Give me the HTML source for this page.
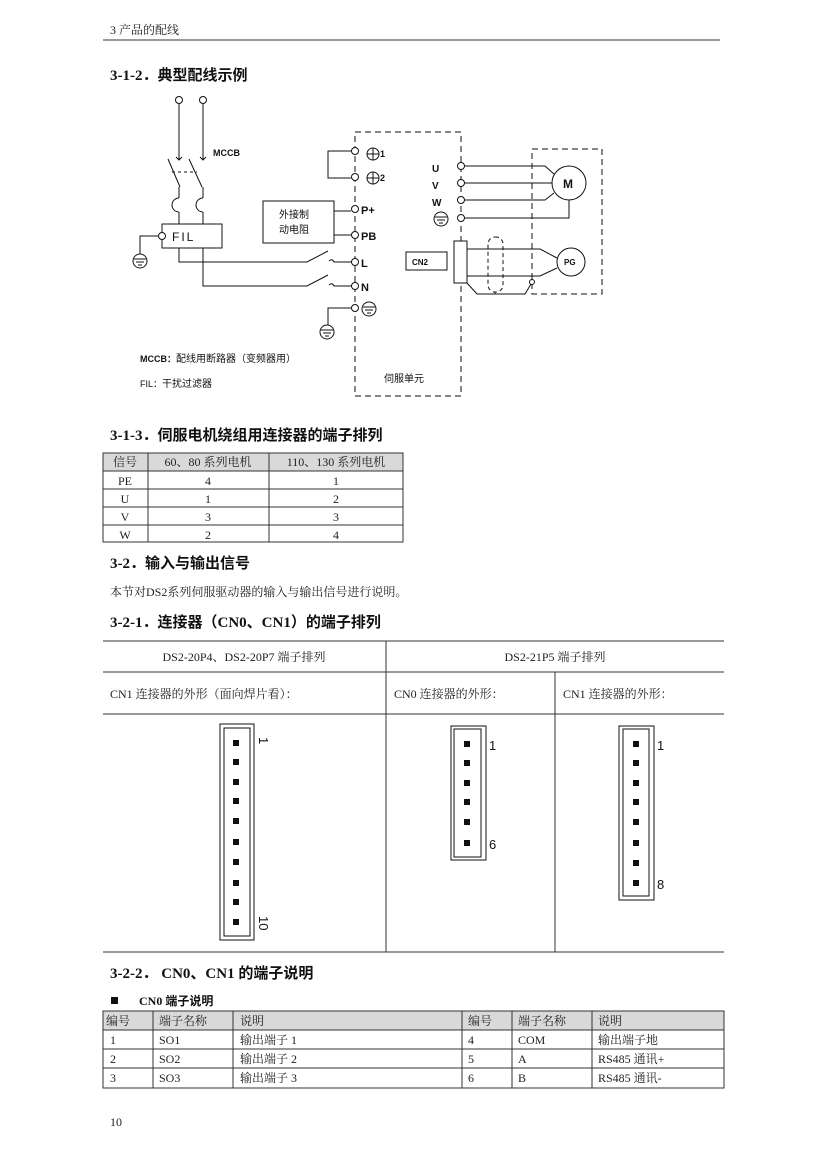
<!DOCTYPE html>
<html><head><meta charset="utf-8"><style>
html,body{margin:0;padding:0;background:#fff;}
svg{display:block;}
.s{font-family:"Liberation Serif","Noto Serif CJK SC",serif;fill:#222;}
.h{font-family:"Liberation Serif","Noto Sans CJK SC",serif;font-weight:bold;fill:#111;}
.a{font-family:"Liberation Sans","Noto Sans CJK SC",sans-serif;fill:#111;}
</style></head><body>
<svg width="827" height="1169" viewBox="0 0 827 1169" xmlns="http://www.w3.org/2000/svg">
<rect width="827" height="1169" fill="#fff"/>
<text x="110" y="34" class="s" font-size="12">3  产品的配线</text>
<line x1="103" y1="40" x2="720" y2="40" stroke="#333" stroke-width="1"/>
<text x="110" y="80" class="h" font-size="15">3-1-2．典型配线示例</text>

<g stroke="#111" stroke-width="1" fill="none">
<circle cx="179" cy="100" r="3.5" fill="#fff"/><circle cx="203" cy="100" r="3.5" fill="#fff"/>
<line x1="179" y1="104" x2="179" y2="160"/><line x1="203" y1="104" x2="203" y2="160"/>
<path d="M176 157 L179 160 L182 157 M200 157 L203 160 L206 157"/>
<line x1="168" y1="159" x2="180" y2="187"/><line x1="189" y1="159" x2="202" y2="187"/>
<line x1="172" y1="172" x2="197" y2="172" stroke-dasharray="3,3"/>
<line x1="179" y1="187" x2="179" y2="198"/><line x1="203" y1="187" x2="203" y2="198"/>
<path d="M179 198 A7 7 0 0 0 179 212 M203 198 A7 7 0 0 0 203 212"/>
<line x1="179" y1="212" x2="179" y2="224"/><line x1="203" y1="212" x2="203" y2="224"/>
<rect x="162" y="224" width="60" height="24"/>
<circle cx="162" cy="236" r="3.5" fill="#fff"/>
<path d="M158 236 H140 V254"/>
<circle cx="140" cy="261" r="7"/><path d="M134 259 H146 M136 262 H144 M138 265 H142"/>
<path d="M179 248 V262 H307 L328 251"/><path d="M203 248 V286 H307 L328 275"/>
<path d="M329 261 Q332 258 334 262 H352"/><path d="M329 285 Q332 282 334 286 H352"/>
<path d="M355 132 H461 V396 H355 Z" stroke-dasharray="6,4"/>
<g fill="#fff">
<circle cx="355" cy="151" r="3.5"/><circle cx="355" cy="177" r="3.5"/><circle cx="355" cy="209" r="3.5"/>
<circle cx="355" cy="235" r="3.5"/><circle cx="355" cy="262" r="3.5"/><circle cx="355" cy="286" r="3.5"/><circle cx="355" cy="308" r="3.5"/>
</g>
<path d="M351 151 H328 V178 H351"/>
<circle cx="373" cy="154" r="6"/><path d="M367 154 H379 M373 148 V160"/>
<circle cx="373" cy="178" r="6"/><path d="M367 178 H379 M373 172 V184"/>
<rect x="263" y="201" width="71" height="42"/>
<path d="M334 211 H351 M334 235 H351"/>
<path d="M351 308 H328 V325"/>
<circle cx="327" cy="332" r="7"/><path d="M321 330 H333 M323 333 H331 M325 336 H329"/>
<circle cx="369" cy="309" r="7"/><path d="M363 307 H375 M365 310 H373 M367 313 H371"/>
<circle cx="441" cy="219" r="7"/><path d="M435 217 H447 M437 220 H445 M439 223 H443"/>
<g fill="#fff"><circle cx="461" cy="166" r="3.5"/><circle cx="461" cy="183" r="3.5"/><circle cx="461" cy="200" r="3.5"/><circle cx="461" cy="218" r="3.5"/></g>
<path d="M465 166 H545 L554 174"/><path d="M465 183 H552"/><path d="M465 200 H545 L554 193"/><path d="M465 218 H569 V200"/>
<circle cx="569" cy="183" r="17"/>
<path d="M532 149 H602 V294 H532 Z" stroke-dasharray="6,4"/>
<rect x="454" y="241" width="13" height="42" fill="#fff"/>
<rect x="406" y="252" width="41" height="18"/>
<path d="M467 249 H540 L557 258 M467 276 H540 L557 268"/>
<circle cx="571" cy="262" r="14"/>
<rect x="488" y="237" width="15" height="55" rx="7" stroke-dasharray="4,3"/>
<path d="M467 283 L477 294 H525 L531 284 M495 292 V294"/>
<circle cx="532" cy="282" r="2.5" fill="#fff"/>
</g>
<g class="a" font-size="10" font-weight="bold">
<text x="213" y="156" font-size="9">MCCB</text>
<text x="172" y="241" font-size="12" font-weight="normal" letter-spacing="2">FIL</text>
<text x="380" y="157" font-size="9">1</text><text x="380" y="181" font-size="9">2</text>
<text x="361" y="214" font-size="11">P+</text><text x="361" y="240" font-size="11">PB</text>
<text x="361" y="267" font-size="11">L</text><text x="361" y="291" font-size="11">N</text>
<text x="432" y="172">U</text><text x="432" y="189">V</text><text x="432" y="206">W</text>
<text x="412" y="265" font-size="8">CN2</text>
<text x="563" y="188" font-size="12">M</text>
<text x="564" y="265" font-size="8">PG</text>
<text x="140" y="362" font-size="9">MCCB：<tspan font-weight="normal" font-size="10">配线用断路器（变频器用）</tspan></text>
<text x="140" y="387" font-size="9" font-weight="normal">FIL：<tspan font-size="10">干扰过滤器</tspan></text>
<text x="384" y="382" font-size="10" font-weight="normal">伺服单元</text>
<text x="279" y="218" font-size="10" font-weight="normal">外接制</text>
<text x="279" y="233" font-size="10" font-weight="normal">动电阻</text>
</g>

<text x="110" y="440" class="h" font-size="15">3-1-3．伺服电机绕组用连接器的端子排列</text>
<rect x="103" y="453" width="300" height="18" fill="#d9d9d9"/>
<g stroke="#333" stroke-width="1" fill="none">
<rect x="103" y="453" width="300" height="89"/>
<path d="M103 471 H403 M103 489 H403 M103 507 H403 M103 525 H403 M148 453 V542 M269 453 V542"/>
</g>
<g class="s" font-size="12" text-anchor="middle">
<text x="125" y="466">信号</text><text x="208" y="466">60、80 系列电机</text><text x="336" y="466">110、130 系列电机</text>
<text x="125" y="485">PE</text><text x="208" y="485">4</text><text x="336" y="485">1</text>
<text x="125" y="503">U</text><text x="208" y="503">1</text><text x="336" y="503">2</text>
<text x="125" y="521">V</text><text x="208" y="521">3</text><text x="336" y="521">3</text>
<text x="125" y="539">W</text><text x="208" y="539">2</text><text x="336" y="539">4</text>
</g>

<text x="110" y="568" class="h" font-size="15">3-2．输入与输出信号</text>
<text x="110" y="596" class="s" font-size="12">本节对DS2系列伺服驱动器的输入与输出信号进行说明。</text>
<text x="110" y="627" class="h" font-size="15">3-2-1．连接器（CN0、CN1）的端子排列</text>

<g stroke="#999" stroke-width="2"><path d="M103 641 H724 M103 672 H724 M103 714 H724 M103 952 H724"/></g>
<g stroke="#333" stroke-width="1"><path d="M386 641 V952 M555 672 V952"/></g>
<g class="s" font-size="12">
<text x="244" y="661" text-anchor="middle">DS2-20P4、DS2-20P7 端子排列</text>
<text x="555" y="661" text-anchor="middle">DS2-21P5 端子排列</text>
<text x="110" y="698">CN1 连接器的外形（面向焊片看）：</text>
<text x="394" y="698">CN0 连接器的外形：</text>
<text x="563" y="698">CN1 连接器的外形：</text>
</g>
<g stroke="#111" stroke-width="1" fill="none">
<rect x="220" y="724" width="34" height="216"/><rect x="224" y="728" width="26" height="208"/>
<rect x="451" y="726" width="35" height="134"/><rect x="454" y="729" width="27" height="128"/>
<rect x="619" y="726" width="35" height="174"/><rect x="623" y="729" width="26" height="167"/>
</g>
<g fill="#111">
<rect x="233" y="740" width="6" height="6"/><rect x="233" y="759" width="6" height="6"/><rect x="233" y="779" width="6" height="6"/><rect x="233" y="798" width="6" height="6"/><rect x="233" y="818" width="6" height="6"/><rect x="233" y="839" width="6" height="6"/><rect x="233" y="859" width="6" height="6"/><rect x="233" y="880" width="6" height="6"/><rect x="233" y="899" width="6" height="6"/><rect x="233" y="919" width="6" height="6"/>
<rect x="464" y="741" width="6" height="6"/><rect x="464" y="760" width="6" height="6"/><rect x="464" y="780" width="6" height="6"/><rect x="464" y="799" width="6" height="6"/><rect x="464" y="819" width="6" height="6"/><rect x="464" y="840" width="6" height="6"/>
<rect x="633" y="741" width="6" height="6"/><rect x="633" y="760" width="6" height="6"/><rect x="633" y="780" width="6" height="6"/><rect x="633" y="799" width="6" height="6"/><rect x="633" y="819" width="6" height="6"/><rect x="633" y="840" width="6" height="6"/><rect x="633" y="860" width="6" height="6"/><rect x="633" y="880" width="6" height="6"/>
</g>
<g class="a" font-size="13" font-weight="normal">
<text transform="translate(259,737) rotate(90)">1</text>
<text transform="translate(259,916) rotate(90)">10</text>
<text x="489" y="750">1</text><text x="489" y="849">6</text>
<text x="657" y="750">1</text><text x="657" y="889">8</text>
</g>

<text x="110" y="978" class="h" font-size="15">3-2-2．  CN0、CN1 的端子说明</text>
<rect x="111" y="997" width="7" height="7" fill="#111"/>
<text x="139" y="1005" class="h" font-size="12">CN0 端子说明</text>
<rect x="103" y="1011" width="621" height="19" fill="#d9d9d9"/>
<g stroke="#333" stroke-width="1" fill="none">
<rect x="103" y="1011" width="621" height="77"/>
<path d="M103 1030 H724 M103 1049 H724 M103 1068 H724 M153 1011 V1088 M233 1011 V1088 M462 1011 V1088 M512 1011 V1088 M592 1011 V1088"/>
</g>
<g class="s" font-size="12">
<text x="106" y="1025">编号</text><text x="159" y="1025">端子名称</text><text x="240" y="1025">说明</text><text x="468" y="1025">编号</text><text x="518" y="1025">端子名称</text><text x="598" y="1025">说明</text>
<text x="110" y="1044">1</text><text x="159" y="1044">SO1</text><text x="240" y="1044">输出端子 1</text><text x="468" y="1044">4</text><text x="518" y="1044">COM</text><text x="598" y="1044">输出端子地</text>
<text x="110" y="1063">2</text><text x="159" y="1063">SO2</text><text x="240" y="1063">输出端子 2</text><text x="468" y="1063">5</text><text x="518" y="1063">A</text><text x="598" y="1063">RS485 通讯+</text>
<text x="110" y="1082">3</text><text x="159" y="1082">SO3</text><text x="240" y="1082">输出端子 3</text><text x="468" y="1082">6</text><text x="518" y="1082">B</text><text x="598" y="1082">RS485 通讯-</text>
</g>
<text x="110" y="1126" class="s" font-size="12">10</text>
</svg>
</body></html>
